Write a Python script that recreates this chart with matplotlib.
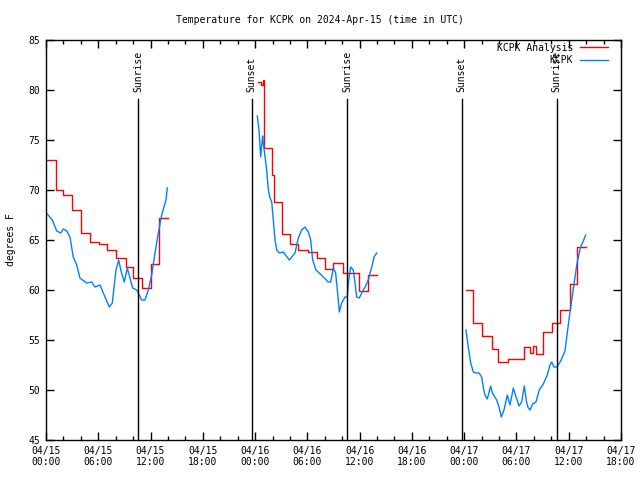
import numpy as np
import matplotlib
matplotlib.use("Agg")
import matplotlib.pyplot as plt

nan = np.nan

# hours since 2024-04-15 00:00 UTC
analysis_hours = [0.15, 1.15, 1.99, 2.95, 4.02, 5.05, 6.1, 6.97, 8.03, 9.15, 10.02, 10.98, 12.05, 13.0, 13.97, 14.0,
                  24.37, 24.65, 24.9, 25.02, 25.98, 26.2, 27.05, 28.0, 28.96, 30.1, 31.14, 32.02, 32.98, 34.1,
                  35.96, 36.99, 37.96, 38.0,
                  48.2, 48.98, 50.0, 51.16, 51.92, 53.07, 54.87, 55.5, 55.9, 56.2, 57.0, 58.05, 59.0, 60.2,
                  60.98, 61.95]
analysis_temp = [73.0, 70.0, 69.5, 68.0, 65.7, 64.8, 64.6, 64.0, 63.2, 62.3, 61.2, 60.2, 62.6, 67.2, 67.2, nan,
                 80.8, 80.5, 81.0, 74.2, 71.5, 68.8, 65.6, 64.6, 64.0, 63.8, 63.2, 62.1, 62.7, 61.7,
                 59.9, 61.5, 61.5, nan,
                 60.0, 56.7, 55.4, 54.1, 52.8, 53.1, 54.3, 53.7, 54.4, 53.6, 55.8, 56.7, 58.0, 60.6,
                 64.3, 64.3]

obs_hours = [0.15, 0.72, 1.23, 1.69, 1.99, 2.38, 2.75, 3.13, 3.52, 3.90, 4.67, 5.25, 5.62, 6.20, 6.77, 7.27,
             7.61, 7.81, 8.03, 8.34, 8.64, 8.99, 9.33, 9.64, 9.95, 10.41, 10.71, 10.98, 11.36, 11.74, 12.13,
             12.51, 12.89, 13.28, 13.77, 13.92, 14.0,
             24.25, 24.45, 24.64, 24.76, 24.87, 24.94, 25.14, 25.33, 25.52, 25.71, 25.91, 26.09, 26.29, 26.48,
             26.78, 27.24, 27.93, 28.58, 28.96, 29.35, 29.73, 30.11, 30.38, 30.61, 30.99, 31.37, 31.83, 32.40,
             32.68, 32.98, 33.25, 33.44, 33.67, 33.94, 34.32, 34.58, 34.70, 34.97, 35.27, 35.47, 35.66, 35.96,
             36.24, 36.62, 36.99, 37.39, 37.65, 37.96, 38.0,
             48.21, 48.47, 48.75, 49.05, 49.36, 49.70, 50.01, 50.20, 50.39, 50.65, 51.04, 51.23, 51.73, 52.00,
             52.26, 52.57, 52.95, 53.26, 53.64, 53.95, 54.29, 54.60, 54.90, 55.18, 55.36, 55.56, 55.86, 56.24,
             56.62, 57.08, 57.54, 57.85, 58.05, 58.31, 58.62, 59.08, 59.57, 59.77, 60.07, 60.46, 60.72, 60.98,
             61.37, 61.67, 61.95]
obs_temp = [67.6, 67.0, 65.9, 65.7, 66.1, 65.9, 65.3, 63.3, 62.5, 61.2, 60.7, 60.8, 60.3, 60.5, 59.3, 58.3,
            58.7, 60.3, 62.0, 63.0, 61.8, 60.8, 62.2, 61.2, 60.2, 60.0, 59.5, 59.0, 59.0, 60.0, 61.5,
            63.7, 65.7, 67.5, 69.0, 70.2, nan,
            77.4, 76.0, 73.3, 74.5, 75.4, 74.7, 73.3, 72.0, 70.0, 69.2, 68.8, 67.0, 65.0, 64.0,
            63.7, 63.8, 63.0, 63.7, 65.2, 66.0, 66.3, 65.8, 65.0, 63.0, 62.0, 61.7, 61.3, 60.8,
            60.8, 62.2, 61.7, 60.0, 57.8, 58.7, 59.3, 59.3, 60.7, 62.3, 62.0, 60.7, 59.3, 59.2,
            59.7, 60.3, 61.0, 62.3, 63.3, 63.7, nan,
            56.0, 54.3, 52.7, 51.8, 51.7, 51.7, 51.3, 50.2, 49.5, 49.1, 50.4, 49.7, 49.0, 48.3,
            47.3, 48.0, 49.5, 48.5, 50.2, 49.3, 48.4, 48.8, 50.4, 48.7, 48.2, 48.0, 48.6, 48.8,
            50.0, 50.6, 51.5, 52.5, 52.8, 52.3, 52.3, 52.9, 53.9, 55.3, 57.3, 59.7, 61.3, 62.8,
            64.3, 64.9, 65.5]

sun_hours = [10.59, 23.6, 34.59, 47.71, 58.62]
sun_labels = ["Sunrise", "Sunset", "Sunrise", "Sunset", "Sunrise"]

tick_hours = list(range(0, 67, 6))
tick_labels = ["04/15\n00:00", "04/15\n06:00", "04/15\n12:00", "04/15\n18:00",
               "04/16\n00:00", "04/16\n06:00", "04/16\n12:00", "04/16\n18:00",
               "04/17\n00:00", "04/17\n06:00", "04/17\n12:00", "04/17\n18:00"]

plt.rcParams["font.family"] = "DejaVu Sans Mono"
plt.rcParams["font.size"] = 7

fig = plt.figure(figsize=(6.4, 4.8), dpi=100)
ax = fig.add_axes([46 / 640, 40 / 480, 575 / 640, 400 / 480])

ax.plot(analysis_hours, analysis_temp, color="#ff0000", lw=1, drawstyle="steps-post", label="KCPK Analysis")
ax.plot(obs_hours, obs_temp, color="#0080ff", lw=1, label="KCPK")

for h, lab in zip(sun_hours, sun_labels):
    ax.plot([h, h], [45, 79.1], color="black", lw=1)
    ax.text(h, 79.8, lab, rotation=90, ha="center", va="bottom")

ax.set_xlim(0, 66)
ax.set_ylim(45, 85)
ax.set_xticks(tick_hours)
ax.set_xticklabels(tick_labels)
ax.set_xticks(range(0, 67, 2), minor=True)
ax.set_yticks(range(45, 86, 5))
ax.tick_params(which="both", direction="in", top=True, right=True, width=1)
ax.tick_params(which="major", length=6, pad=4)
ax.tick_params(which="minor", length=3)
for s in ax.spines.values():
    s.set_linewidth(1)

ax.set_ylabel("degrees F", labelpad=9)
fig.text(0.5, 1 - 20 / 480, "Temperature for KCPK on 2024-Apr-15 (time in UTC)", ha="center", va="center")

leg = ax.legend(loc="upper right", bbox_to_anchor=(1 - 7 / 575, 1 + 3 / 400), frameon=False,
                markerfirst=False, handlelength=2.9, borderaxespad=0.2, labelspacing=0.25,
                handletextpad=0.7)
for t in leg.get_texts():
    t.set_ha("right")

fig.savefig("out.png", dpi=100)
